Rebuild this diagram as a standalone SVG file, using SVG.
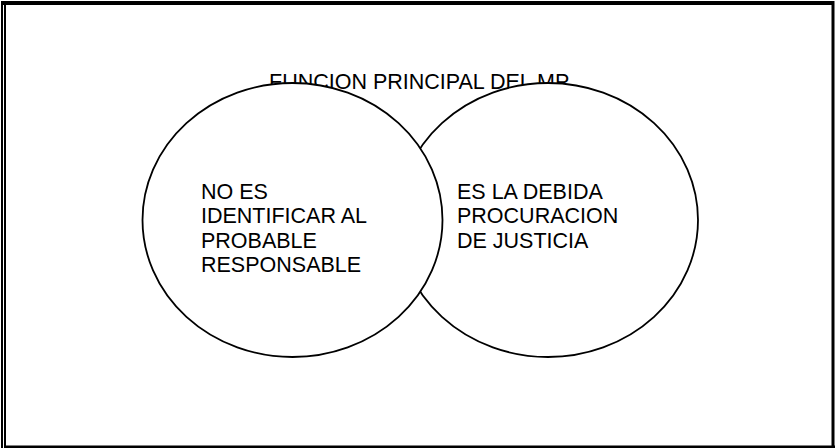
<svg xmlns="http://www.w3.org/2000/svg" width="835" height="448" viewBox="0 0 835 448">
  <style>
    .frame { fill: #000; }
    .circ { fill: #fff; stroke: #000; stroke-width: 1.8; }
    .txt { font-family: "Liberation Sans", Arial, sans-serif; font-size: 21.5px; fill: #000; }
  </style>
  <rect width="835" height="448" fill="#fff"/>
  <g id="frame">
    <rect class="frame" x="1" y="1" width="833" height="4"/>
    <rect class="frame" x="1" y="1" width="2" height="447"/>
    <rect class="frame" x="4" y="1" width="2" height="447"/>
    <rect class="frame" x="4" y="445.5" width="831" height="2.5"/>
    <rect class="frame" x="831.5" y="1" width="3" height="447"/>
  </g>
  <g id="title">
    <text class="txt" x="269" y="88.5">FUNCION PRINCIPAL DEL MP</text>
  </g>
  <g id="right-circle">
    <ellipse class="circ" cx="548" cy="220" rx="150" ry="137"/>
    <text class="txt" x="457" y="198.5">ES LA DEBIDA</text>
    <text class="txt" x="457" y="223">PROCURACION</text>
    <text class="txt" x="457" y="247.5">DE JUSTICIA</text>
  </g>
  <g id="left-circle">
    <ellipse class="circ" cx="292.5" cy="220" rx="150" ry="137"/>
    <text class="txt" x="201" y="198.5">NO ES</text>
    <text class="txt" x="201" y="223">IDENTIFICAR AL</text>
    <text class="txt" x="201" y="247.5">PROBABLE</text>
    <text class="txt" x="201" y="272">RESPONSABLE</text>
  </g>
  <g id="connectors"/>
</svg>
